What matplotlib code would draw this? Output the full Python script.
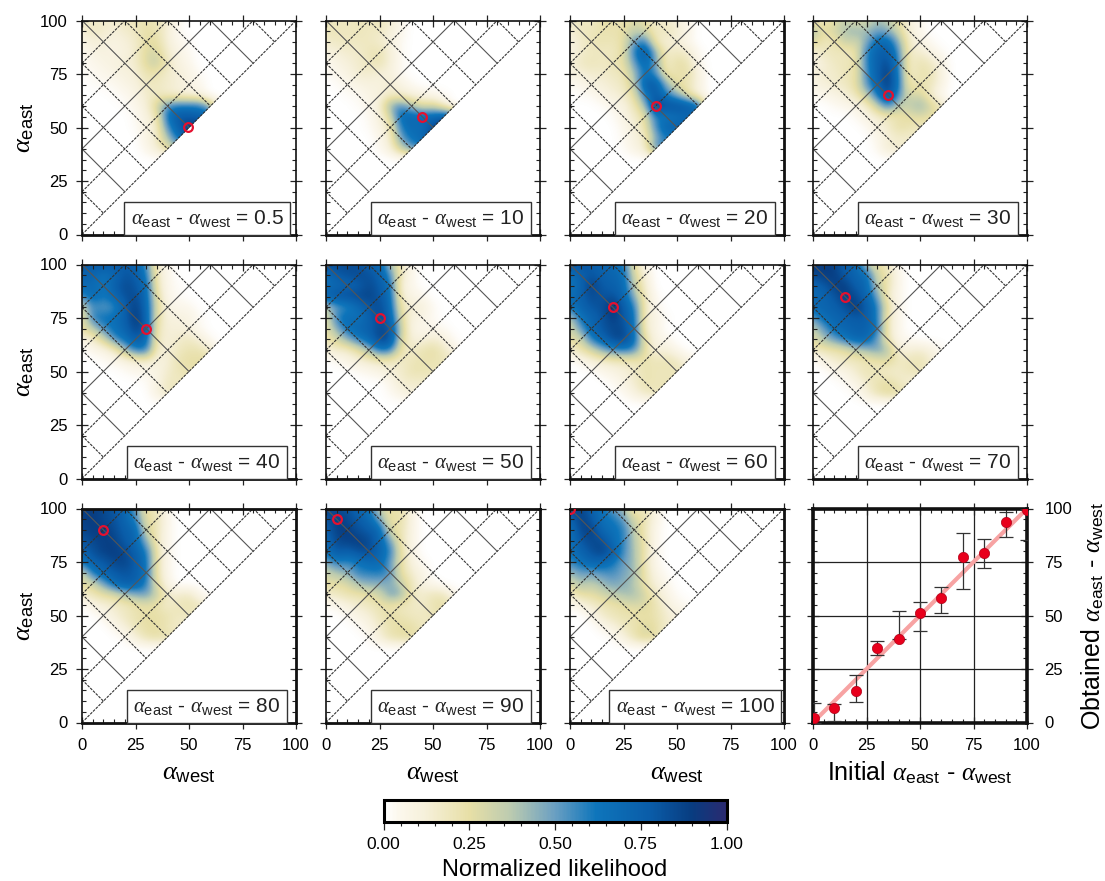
import numpy as np
from matplotlib import pyplot as plt
from matplotlib.colors import LinearSegmentedColormap
from matplotlib.patches import Polygon
from matplotlib.ticker import MultipleLocator

plt.rcParams['font.family'] = ['Liberation Sans', 'DejaVu Sans']
plt.rcParams['mathtext.fontset'] = 'custom'
plt.rcParams['mathtext.rm'] = 'Liberation Sans'
plt.rcParams['mathtext.it'] = 'Liberation Serif:italic'
plt.rcParams['text.color'] = '#222222'

# likelihood (percent), rows east = 100..40, columns west = 0..60, step 5
east_rows = [100, 95, 90, 85, 80, 75, 70, 65, 60, 55, 50, 45, 40]
west_cols = [0, 5, 10, 15, 20, 25, 30, 35, 40, 45, 50, 55, 60]

p005 = [[15,18,15,15,18,20,22,20,15,5,0,0,0],
        [12,18,15,12,15,18,25,22,12,3,0,0,0],
        [8,12,12,8,12,15,25,25,12,5,2,0,0],
        [3,8,10,8,10,15,28,30,15,8,3,0,0],
        [2,5,8,10,12,15,28,35,18,10,5,0,0],
        [2,3,5,8,10,12,22,22,15,12,8,2,0],
        [0,2,3,3,8,10,18,18,15,12,8,5,0],
        [0,0,0,2,3,8,15,18,15,12,10,8,0],
        [0,0,0,0,2,5,12,30,55,60,60,60,40],
        [0,0,0,0,0,3,10,20,65,80,80,75,75],
        [0,0,0,0,0,2,8,15,55,75,90,90,90],
        [0,0,0,0,0,0,8,15,40,65,80,80,80],
        [0,0,0,0,0,0,5,15,25,40,40,40,40]]
p010 = [[18,18,18,20,18,20,15,5,0,0,0,0,0],
        [20,20,18,20,18,18,12,5,0,0,0,0,0],
        [15,18,18,18,18,15,10,3,0,0,0,0,0],
        [10,12,15,15,20,22,12,3,0,0,0,0,0],
        [3,8,12,15,18,22,12,3,0,0,0,0,0],
        [2,5,8,15,15,12,10,3,0,0,0,0,0],
        [0,2,5,8,10,10,15,8,3,0,0,0,0],
        [0,0,2,3,8,10,15,15,10,8,5,2,0],
        [0,0,0,2,5,12,45,55,40,25,30,15,0],
        [0,0,0,0,3,10,30,70,70,70,70,78,70],
        [0,0,0,0,2,8,18,60,70,65,85,92,92],
        [0,0,0,0,0,5,15,50,65,70,90,90,90],
        [0,0,0,0,0,3,12,35,50,60,60,60,60]]
p020 = [[15,20,15,25,25,18,30,25,12,15,10,5,0],
        [12,18,20,22,22,25,35,30,18,20,15,8,0],
        [10,15,20,22,20,25,50,60,18,12,12,5,0],
        [8,15,18,18,18,25,60,82,45,15,18,15,3],
        [12,18,20,18,20,25,50,72,50,15,25,22,5],
        [8,12,15,15,18,20,40,65,55,20,22,25,10],
        [3,5,10,12,15,18,35,75,80,45,25,20,10],
        [0,2,3,8,12,15,25,60,80,60,45,25,10],
        [0,0,0,2,5,10,20,40,90,85,85,80,70],
        [0,0,0,0,2,8,15,25,60,60,65,70,70],
        [0,0,0,0,0,5,12,22,55,75,75,75,75],
        [0,0,0,0,0,3,10,15,45,60,60,60,60],
        [0,0,0,0,0,2,8,15,55,60,60,60,60]]
p030 = [[15,20,25,35,25,30,40,35,25,10,5,0,0],
        [40,25,30,40,45,40,50,45,30,12,5,0,0],
        [30,20,20,35,30,45,68,70,45,15,8,3,0],
        [12,18,20,18,22,58,75,78,55,15,15,8,3],
        [8,12,18,20,22,58,75,85,58,15,22,18,8],
        [10,15,15,20,22,55,75,92,60,15,22,22,10],
        [8,12,15,18,25,52,72,92,62,20,22,20,8],
        [3,5,8,12,20,35,62,85,55,28,30,15,3],
        [0,0,3,5,8,15,35,60,35,35,45,30,20],
        [0,0,0,0,3,8,15,18,22,25,28,25,20],
        [0,0,0,0,0,3,10,15,25,22,18,18,18],
        [0,0,0,0,0,0,5,12,15,15,15,15,15],
        [0,0,0,0,0,0,3,15,15,15,15,15,15]]
p040 = [[75,80,80,78,78,75,55,15,5,0,0,0,0],
        [75,72,65,70,80,78,62,18,5,0,0,0,0],
        [68,70,60,75,85,80,68,20,5,2,0,0,0],
        [55,70,62,70,82,85,70,25,5,3,0,0,0],
        [30,55,50,55,75,90,72,28,8,5,5,0,0],
        [20,60,65,65,75,92,75,25,10,10,8,3,0],
        [25,35,55,65,72,88,78,20,12,12,10,3,0],
        [8,15,30,55,65,78,70,18,12,15,18,12,3],
        [0,5,8,15,40,60,62,15,12,18,22,22,15],
        [0,0,2,5,8,12,15,10,12,22,25,25,25],
        [0,0,0,0,2,5,5,8,15,20,22,22,22],
        [0,0,0,0,0,0,2,8,18,18,18,18,18],
        [0,0,0,0,0,0,0,10,18,18,18,18,18]]
p050 = [[82,85,85,82,75,72,40,18,5,0,0,0,0],
        [68,78,82,85,82,75,55,18,5,0,0,0,0],
        [65,70,72,75,85,78,65,12,5,0,0,0,0],
        [75,82,85,85,88,80,68,15,8,5,0,0,0],
        [35,50,55,70,78,85,70,22,12,12,3,0,0],
        [25,60,70,62,75,85,75,28,10,8,3,0,0],
        [25,45,65,72,75,85,82,35,8,5,5,3,0],
        [20,30,45,60,70,88,85,30,12,10,15,10,2],
        [12,15,15,25,40,62,60,22,15,22,25,18,8],
        [0,3,8,12,15,18,18,15,20,22,22,20,15],
        [0,0,0,2,5,8,12,15,22,22,20,20,20],
        [0,0,0,0,0,0,5,15,15,15,15,15,15],
        [0,0,0,0,0,0,3,8,12,12,12,12,12]]
p060 = [[80,82,78,72,70,60,25,5,0,0,0,0,0],
        [65,75,80,75,72,68,30,12,0,0,0,0,0],
        [62,72,90,78,75,70,35,15,0,0,0,0,0],
        [65,75,85,80,82,72,45,18,3,0,0,0,0],
        [65,72,80,82,95,78,60,18,5,0,0,0,0],
        [35,65,72,80,90,80,65,15,8,2,0,0,0],
        [30,50,72,80,85,85,65,15,8,0,0,0,0],
        [25,30,60,72,85,88,68,25,8,5,0,0,0],
        [15,22,30,45,55,60,55,25,10,12,5,0,0],
        [0,5,12,15,18,18,20,22,20,22,18,10,3],
        [0,0,0,5,8,12,15,22,20,20,20,15,12],
        [0,0,0,0,3,8,15,22,20,20,20,15,15],
        [0,0,0,0,0,3,10,18,20,20,20,20,20]]
p070 = [[90,90,88,75,75,35,25,18,3,0,0,0,0],
        [85,90,90,78,72,68,30,22,5,0,0,0,0],
        [72,78,88,90,75,72,35,22,5,0,0,0,0],
        [68,72,80,90,85,72,50,15,5,0,0,0,0],
        [72,72,75,82,92,78,60,25,5,0,0,0,0],
        [50,68,72,75,78,78,60,18,5,0,0,0,0],
        [35,50,68,72,75,75,65,18,5,0,0,0,0],
        [25,40,50,62,72,72,50,20,5,3,0,0,0],
        [18,20,22,25,35,40,50,40,12,12,15,10,3],
        [0,8,15,18,18,20,22,28,18,20,22,15,5],
        [0,0,5,8,15,22,18,15,15,20,20,15,12],
        [0,0,0,3,8,15,22,25,18,12,10,10,10],
        [0,0,0,0,2,12,22,28,25,20,20,20,20]]
p080 = [[88,90,85,80,72,50,22,20,5,0,0,0,0],
        [88,90,85,82,72,60,25,22,5,0,0,0,0],
        [85,90,90,85,75,72,30,20,5,0,0,0,0],
        [80,85,88,88,78,72,45,18,5,0,0,0,0],
        [72,82,88,90,85,75,62,22,5,0,0,0,0],
        [62,75,78,85,88,78,65,22,5,0,0,0,0],
        [30,60,72,78,80,78,65,22,5,0,0,0,0],
        [25,30,48,68,78,75,60,25,8,0,0,0,0],
        [15,20,25,28,38,45,50,35,15,15,18,5,0],
        [0,8,12,15,18,22,25,22,15,20,22,20,10],
        [0,0,5,12,18,22,25,25,22,18,18,15,15],
        [0,0,0,5,12,20,25,25,20,15,15,15,15],
        [0,0,0,0,3,12,22,25,22,20,20,20,20]]
p090 = [[85,85,82,72,65,35,22,25,8,0,0,0,0],
        [80,90,85,78,70,50,22,25,8,0,0,0,0],
        [75,88,90,82,78,72,28,22,8,0,0,0,0],
        [70,85,88,90,85,72,50,20,8,0,0,0,0],
        [65,80,75,82,85,72,60,25,8,0,0,0,0],
        [45,60,55,62,68,70,50,25,10,3,0,0,0],
        [32,38,45,58,58,60,55,25,15,8,0,0,0],
        [25,25,28,40,45,45,45,35,20,8,5,0,0],
        [15,18,22,22,25,30,50,45,18,15,20,20,5],
        [2,5,10,15,18,22,22,18,18,15,22,25,18],
        [0,0,3,8,12,20,25,22,18,18,20,22,20],
        [0,0,0,2,8,15,22,25,25,18,15,15,15],
        [0,0,0,0,2,12,22,25,25,22,22,22,22]]
p100 = [[88,88,75,65,50,42,15,22,8,0,0,0,0],
        [70,90,80,65,62,52,30,22,8,0,0,0,0],
        [65,85,90,70,65,60,35,20,5,0,0,0,0],
        [62,80,85,85,68,58,38,22,5,0,0,0,0],
        [65,72,82,88,78,55,40,22,5,0,0,0,0],
        [55,65,72,72,62,50,42,20,5,0,0,0,0],
        [42,50,48,52,55,48,42,22,8,2,0,0,0],
        [28,40,35,42,48,45,38,22,12,5,0,0,0],
        [15,25,25,30,35,40,42,30,18,8,2,0,0],
        [2,8,15,20,22,25,28,28,22,12,5,3,0],
        [0,0,5,15,20,22,22,25,22,15,10,8,5],
        [0,0,0,5,10,18,22,28,25,15,12,10,8],
        [0,0,0,0,2,10,22,30,25,12,12,12,12]]

panels = [p005, p010, p020, p030, p040, p050, p060, p070, p080, p090, p100]
labels = ['0.5', '10', '20', '30', '40', '50', '60', '70', '80', '90', '100']
west_init = [49.75, 45, 40, 35, 30, 25, 20, 15, 10, 5, 0]
east_init = [50.25, 55, 60, 65, 70, 75, 80, 85, 90, 95, 100]

# last panel
initial = [0.5, 10, 20, 30, 40, 50, 60, 70, 80, 90, 100]
obtained = [2, 6.6, 14.8, 35, 39, 51, 58.4, 77.5, 79, 93.5, 99.5]
err_low = [0, 0.8, 9.7, 31.7, 39, 42.9, 51.3, 62.5, 72.2, 86.5, 85.4]
err_high = [9, 8.8, 22.3, 38, 52.3, 56.4, 63.4, 88.4, 85.6, 98.4, 100]

cmap_pos = [0, 0.04, 0.12, 0.25, 0.37, 0.5, 0.62, 0.78, 0.9, 1]
cmap_cols = ['#ffffff', '#fcf8ee', '#f6f0da', '#e7dfa6', '#bccbb0', '#6a9fc2', '#0e75bb', '#0a5ca8', '#083c80', '#2a2a70']
cmap = LinearSegmentedColormap.from_list('lik', list(zip(cmap_pos, cmap_cols)))

W, H = 1105, 881
col_x = [82, 326, 570, 813]
row_top = [20.5, 264.5, 508.5]
size = 214


def make_ax(px, top, w=size, h=size):
    return fig.add_axes([px / W, 1 - (top + h) / H, w / W, h / H])


def style(ax):
    ax.set_xlim(0, 100)
    ax.set_ylim(0, 100)
    ax.set_xticks([0, 25, 50, 75, 100])
    ax.set_yticks([0, 25, 50, 75, 100])
    ax.xaxis.set_minor_locator(MultipleLocator(5))
    ax.yaxis.set_minor_locator(MultipleLocator(5))
    ax.tick_params(which='major', direction='inout', length=9, width=0.9, top=True, right=True,
                   labelsize=12, color='#222222')
    ax.tick_params(axis='x', which='major', pad=6.5)
    ax.tick_params(axis='y', which='major', pad=6)
    ax.tick_params(which='minor', direction='in', length=3, width=0.8, top=True, right=True, color='#222222')
    for s in ax.spines.values():
        s.set_linewidth(1.2)
        s.set_color('#111111')
    ax.spines['bottom'].set_linewidth(2)


fig = plt.figure(figsize=(W / 100, H / 100), dpi=100)

for i, data in enumerate(panels):
    r, c = i // 4, i % 4
    ax = make_ax(col_x[c], row_top[r])
    full = np.zeros((21, 21))
    full[:13, :13] = np.array(data) / 100
    im = ax.imshow(full, extent=[-2.5, 102.5, -2.5, 102.5], origin='upper', cmap=cmap, vmin=0, vmax=1,
                   interpolation='bicubic', aspect='auto', zorder=1)
    tri = Polygon([[0, 0], [0, 100], [100, 100]], transform=ax.transData, fc='none', ec='none')
    ax.add_patch(tri)
    im.set_clip_path(tri)
    # grid along and across the diagonal
    for d, ls in zip([0, 20, 40, 60, 80], ['--', '--', '-', '--', '--']):
        if ls == '--':
            ax.plot([0, 100 - d], [d, 100], color='#333333', lw=0.8, ls=ls, dashes=(2.5, 1), zorder=2)
        else:
            ax.plot([0, 100 - d], [d, 100], color='#555555', lw=0.8, zorder=2)
    for t, ls in zip([20, 40, 60, 80, 100, 120, 140, 160, 180], ['--', '-', '--', '--', '-', '--', '--', '-', '--']):
        x0 = max(0, t - 100)
        y0 = min(100, t)
        if ls == '--':
            ax.plot([x0, t / 2], [y0, t / 2], color='#333333', lw=0.8, ls=ls, dashes=(2.5, 1), zorder=2)
        else:
            ax.plot([x0, t / 2], [y0, t / 2], color='#555555', lw=0.8, zorder=2)
    ax.plot(west_init[i], east_init[i], 'o', ms=6.3, mfc='none', mec='#e5102f', mew=1.6, zorder=4)
    style(ax)
    if r == 2:
        ax.spines['top'].set_linewidth(2)
    if c == 2 or r == 2:
        ax.spines['right'].set_linewidth(2)
    ax.tick_params(labelbottom=r == 2, labelleft=c == 0)
    if c == 0:
        ax.set_ylabel(r'$\alpha_{\rm east}$', fontsize=19, labelpad=3)
    if r == 2:
        ax.set_xlabel(r'$\alpha_{\rm west}$', fontsize=19, labelpad=6)
    ax.text(58.5, 2.6, r'$\alpha_{\rm east}$ - $\alpha_{\rm west}$ = ' + labels[i], ha='center', va='bottom', fontsize=15, zorder=5,
            bbox=dict(boxstyle='square,pad=0.3', fc='white', ec='#333333', lw=1))

# obtained vs initial
ax = make_ax(col_x[3], row_top[2])
ax.plot([0, 100], [0, 100], color='#f7a3a3', lw=3, zorder=2)
ax.grid(True, which='major', color='#222222', lw=0.9, zorder=1)
yerr = [np.array(obtained) - np.array(err_low), np.array(err_high) - np.array(obtained)]
ax.errorbar(initial, obtained, yerr=yerr, fmt='none', ecolor='#333333', elinewidth=0.9, capsize=4.7, capthick=0.9, zorder=3)
ax.plot(initial, obtained, 'o', ms=7.4, mfc='#e8001c', mec='#b00018', mew=0.5, zorder=4, clip_on=True)
style(ax)
for s in ax.spines.values():
    s.set_linewidth(2.6)
ax.tick_params(labelright=True, labelleft=False)
ax.tick_params(axis='y', which='major', pad=8)
ax.yaxis.set_label_position('right')
ax.set_ylabel(r'Obtained $\alpha_{\rm east}$ - $\alpha_{\rm west}$', fontsize=18, labelpad=5)
ax.set_xlabel(r'Initial $\alpha_{\rm east}$ - $\alpha_{\rm west}$', fontsize=18, labelpad=5)

# colorbar
cax = make_ax(383.5, 800, 343, 22)
cb = fig.colorbar(im, cax=cax, orientation='horizontal')
cb.set_ticks([0, 0.25, 0.5, 0.75, 1])
cb.set_ticklabels(['0.00', '0.25', '0.50', '0.75', '1.00'])
cax.xaxis.set_minor_locator(MultipleLocator(0.05))
cax.tick_params(which='major', length=6, width=0.9, labelsize=12.5, pad=5, color='#222222')
cax.tick_params(which='minor', length=3, width=0.8, color='#222222')
cb.outline.set_linewidth(2.2)
cb.set_label('Normalized likelihood', fontsize=17, labelpad=5)

plt.savefig('out.png', dpi=100)
